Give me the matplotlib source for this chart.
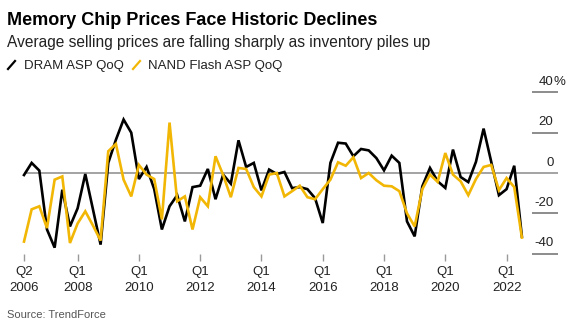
import numpy as np
import pandas as pd
import matplotlib
matplotlib.use("Agg")
import matplotlib.pyplot as plt
from matplotlib.lines import Line2D

plt.rcParams['font.family'] = ['Liberation Sans', 'DejaVu Sans']

# quarterly change in average selling price, Q2 2006 .. Q3 2022
quarters = pd.period_range('2006Q2', '2022Q3', freq='Q')
dram = [-1, 5, 1.2, -28, -37, -8.3, -26.5, -17.5, -0.5, -18,
        -35.5, 5, 16.5, 26.5, 20, -3, 3, -8, -28, -16.5,
        -11, -24, -7, -6.3, 2, -13, -0.8, -5.3, 16.2, 3,
        5, -8.6, 1.7, -0.5, 0.5, -7.5, -7, -8, -12.5, -24.8,
        5, 15, 14.6, 8.3, 11.9, 11.2, 7.4, 1.3, 8.6, 5,
        -24, -31.4, -6.6, 2.5, -4.1, -7.4, 11.6, -2, -4.5, 5.5,
        22, 5.5, -11, -8, 3.6, -31.5]
nand = [-34, -18, -16.5, -27.3, -3.3, -1.7, -34.7, -25, -19, -26,
        -33.5, 10.8, 14.4, -3.3, -11.6, 4, -0.8, -3, -23, 25,
        -14, -11.6, -28, -12, -16.5, 8.3, -1, -12, 2.5, 2,
        -7, -11.6, -0.8, 0, -11.6, -9, -6.3, -12, -13, -8,
        -3.3, 5.3, 3.6, 7.8, -2.5, 0, -3.6, -6.3, -6.6, -9,
        -20, -26.5, -8, -0.8, -4.4, 9.9, -0.8, -4.1, -11, -3,
        3, 4, -8.5, -2.5, -7, -32]
y_ticks = [40, 20, 0, -20, -40]

DRAM_COLOR = '#000000'
NAND_COLOR = '#f2b705'

W, H = 568, 328
fig = plt.figure(figsize=(W / 100, H / 100), dpi=100)

left_px, right_px = 24, 558
top_px, bottom_px = 92.3, 253.7
ax = fig.add_axes([left_px / W, 1 - bottom_px / H,
                   (right_px - left_px) / W, (bottom_px - top_px) / H])

x = np.arange(len(quarters))
step = 7.66
xmax = (right_px - left_px) / step
ax.set_xlim(0, xmax)
ax.set_ylim(-40, 40)

# zero line across, short grid stubs on the right for the rest
ax.axhline(0, color='#8a8a8a', lw=1.1, zorder=1)
stub_start = (531.7 - left_px) / step
for v in y_ticks:
    if v != 0:
        ax.hlines(v, stub_start, xmax, color='#6e6e6e', lw=1.1, clip_on=False)
    if v == 40:
        ax.text(xmax - 0.6, v + 2.2, '40', ha='right', va='bottom', fontsize=9.5, color='#222222')
        ax.text(xmax - 0.6, v + 2.2, '%', ha='left', va='bottom', fontsize=9.5, color='#222222')
    else:
        ax.text(xmax - 0.6, v + 2.2, f'{v}', ha='right', va='bottom', fontsize=9.5, color='#222222')

ax.plot(x, dram, color=DRAM_COLOR, lw=1.9, solid_joinstyle='miter', zorder=3, clip_on=False)
ax.plot(x, nand, color=NAND_COLOR, lw=1.9, solid_joinstyle='miter', zorder=4, clip_on=False)

tick_idx = [0] + [i for i, q in enumerate(quarters) if q.quarter == 1 and q.year % 2 == 0]
ax.set_xticks(tick_idx)
ax.set_xticklabels([f'Q{quarters[i].quarter}\n{quarters[i].year}' for i in tick_idx],
                   fontsize=9.5, color='#222222', linespacing=1.45)
ax.tick_params(axis='x', length=5, width=1, color='#9a9a9a', pad=4)
ax.set_yticks([])
for s in ax.spines.values():
    s.set_visible(False)

fig.text(7 / W, 1 - 25 / H, 'Memory Chip Prices Face Historic Declines',
         fontsize=13, fontweight='bold', va='baseline', color='#000000')
fig.text(7 / W, 1 - 46.5 / H, 'Average selling prices are falling sharply as inventory piles up',
         fontsize=11.2, va='baseline', color='#222222')

# legend with slanted line keys
leg_base = 1 - 69.5 / H
fig.add_artist(Line2D([8 / W, 15 / W], [1 - 69 / H, 1 - 61 / H], color=DRAM_COLOR, lw=1.6))
fig.text(24 / W, leg_base, 'DRAM ASP QoQ', fontsize=9.5, va='baseline', color='#222222')
fig.add_artist(Line2D([133 / W, 140 / W], [1 - 69 / H, 1 - 61 / H], color=NAND_COLOR, lw=1.6))
fig.text(148 / W, leg_base, 'NAND Flash ASP QoQ', fontsize=9.5, va='baseline', color='#222222')

fig.text(7 / W, 1 - 318 / H, 'Source: TrendForce', fontsize=8, va='baseline', color='#555555')

fig.savefig('out.png', dpi=100)
